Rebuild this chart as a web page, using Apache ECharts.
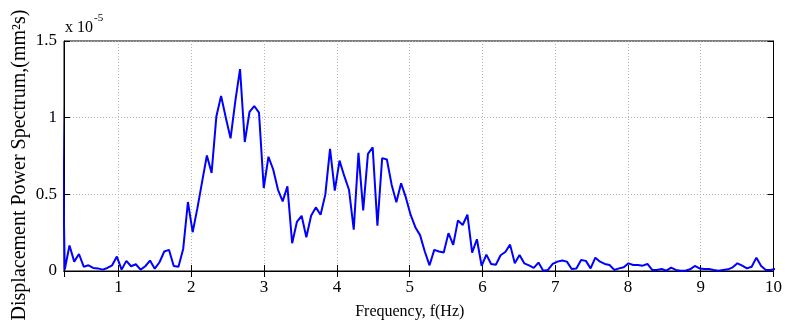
<!DOCTYPE html>
<html>
<head>
    <meta charset="utf-8">
    <title>Displacement Power Spectrum</title>
    <script src="https://cdn.jsdelivr.net/npm/echarts@6/dist/echarts.min.js"></script>
    <style>
        * {
            margin: 0;
            padding: 0;
        }
        body, html {
            background: #fff;
        }
        #main {
            width: 785px;
            height: 326px;
        }
    </style>
</head>
<body>
<div id="main"></div>
<script>
    // spectrum bins: f = k * FREQ_STEP, first bin k = FIRST_BIN
    var FREQ_STEP = 0.0651;
    var FIRST_BIN = 3;
    // values in units of 1e-5
    var spectrum = [
        1.87, 0.01, 0.166, 0.061, 0.111, 0.028, 0.037, 0.02, 0.017, 0.009,
        0.02, 0.037, 0.094, 0.009, 0.066, 0.031, 0.044, 0.009, 0.031, 0.068,
        0.015, 0.057, 0.127, 0.138, 0.033, 0.028, 0.144, 0.45, 0.253, 0.41,
        0.583, 0.753, 0.64, 1.007, 1.142, 1.0, 0.865, 1.107, 1.317, 0.841,
        1.037, 1.076, 1.033, 0.541, 0.745, 0.662, 0.531, 0.454, 0.552, 0.181,
        0.32, 0.36, 0.22, 0.36, 0.415, 0.367, 0.498, 0.797, 0.524, 0.72,
        0.62, 0.53, 0.27, 0.77, 0.395, 0.764, 0.806, 0.295, 0.736, 0.727,
        0.563, 0.448, 0.572, 0.48, 0.367, 0.286, 0.234, 0.127, 0.037, 0.138,
        0.127, 0.12, 0.247, 0.17, 0.33, 0.3, 0.367, 0.12, 0.207, 0.033,
        0.107, 0.046, 0.041, 0.103, 0.124, 0.172, 0.05, 0.105, 0.05, 0.037,
        0.02, 0.055, 0.002, 0.007, 0.046, 0.061, 0.068, 0.061, 0.013, 0.017,
        0.072, 0.066, 0.017, 0.087, 0.061, 0.046, 0.039, 0.007, 0.017, 0.024,
        0.05, 0.039, 0.039, 0.035, 0.046, 0.007, 0.007, 0.013, 0.002, 0.022,
        0.007, 0.002, 0.002, 0.011, 0.033, 0.017, 0.013, 0.013, 0.007, 0.002,
        0.007, 0.011, 0.024, 0.05, 0.035, 0.017, 0.028, 0.087, 0.033, 0.007,
        0.007, 0.013
    ];
    var xRange = [0.25, 10];
    var yTicks = [0, 1.5, 0.5];

    var points = spectrum.map(function (v, i) {
        return [+((FIRST_BIN + i) * FREQ_STEP).toFixed(4), v];
    });

    var font = 'Liberation Serif';
    var gridLine = { color: '#b4b4b4', type: [1, 2], width: 1 };
    var chart = echarts.init(document.getElementById('main'));
    var option = {
        backgroundColor: '#fff',
        animation: false,
        grid: {
            left: 64,
            right: 7,
            top: 41,
            bottom: 55,
            show: true,
            borderColor: '#000',
            borderWidth: 1
        },
        xAxis: [{
            type: 'value',
            min: xRange[0],
            max: xRange[1],
            splitNumber: 10,
            name: 'Frequency, f(Hz)',
            nameLocation: 'middle',
            nameGap: 33,
            nameTextStyle: { fontFamily: font, fontSize: 16, color: '#000', padding: [0, 18, 0, 0] },
            axisLine: { lineStyle: { color: '#000' } },
            axisTick: { inside: true, length: 6, lineStyle: { color: '#000' } },
            axisLabel: {
                showMinLabel: false,
                margin: 8,
                fontFamily: font, fontSize: 17, color: '#000'
            },
            splitLine: { lineStyle: gridLine }
        }, {
            type: 'value',
            position: 'top',
            min: xRange[0],
            max: xRange[1],
            splitNumber: 10,
            axisLine: { lineStyle: { color: '#000' } },
            axisTick: { inside: true, length: 6, lineStyle: { color: '#000' } },
            axisLabel: { show: false },
            splitLine: { show: false }
        }],
        yAxis: [{
            type: 'value',
            min: yTicks[0],
            max: yTicks[1],
            interval: yTicks[2],
            axisLine: { lineStyle: { color: '#000' } },
            axisTick: { inside: true, length: 6, lineStyle: { color: '#000' } },
            axisLabel: { margin: 7, fontFamily: font, fontSize: 17, color: '#000' },
            splitLine: { lineStyle: gridLine }
        }, {
            type: 'value',
            position: 'right',
            min: yTicks[0],
            max: yTicks[1],
            interval: yTicks[2],
            axisLine: { lineStyle: { color: '#000' } },
            axisTick: { inside: true, length: 6, lineStyle: { color: '#000' } },
            axisLabel: { show: false },
            splitLine: { show: false }
        }],
        graphic: [{
            type: 'text',
            left: 65,
            top: 13,
            style: {
                text: '{a|x 10}{b|-5}',
                rich: {
                    a: { fontFamily: font, fontSize: 16, color: '#000', padding: [7, 0, 0, 0] },
                    b: { fontFamily: font, fontSize: 11, color: '#000', verticalAlign: 'top', padding: [0, 0, 8, 1] }
                }
            }
        }, {
            type: 'text',
            x: 20,
            y: 165,
            rotation: Math.PI / 2,
            style: {
                text: 'Displacement Power Spectrum,(mm\u00b2s)',
                fontFamily: font,
                fontSize: 20,
                fill: '#000',
                align: 'center',
                verticalAlign: 'middle'
            }
        }],
        series: [{
            type: 'line',
            data: points,
            showSymbol: false,
            clip: true,
            lineStyle: { color: '#0000ff', width: 2 },
            itemStyle: { color: '#0000ff' }
        }]
    };
    chart.setOption(option);
</script>
</body>
</html>
